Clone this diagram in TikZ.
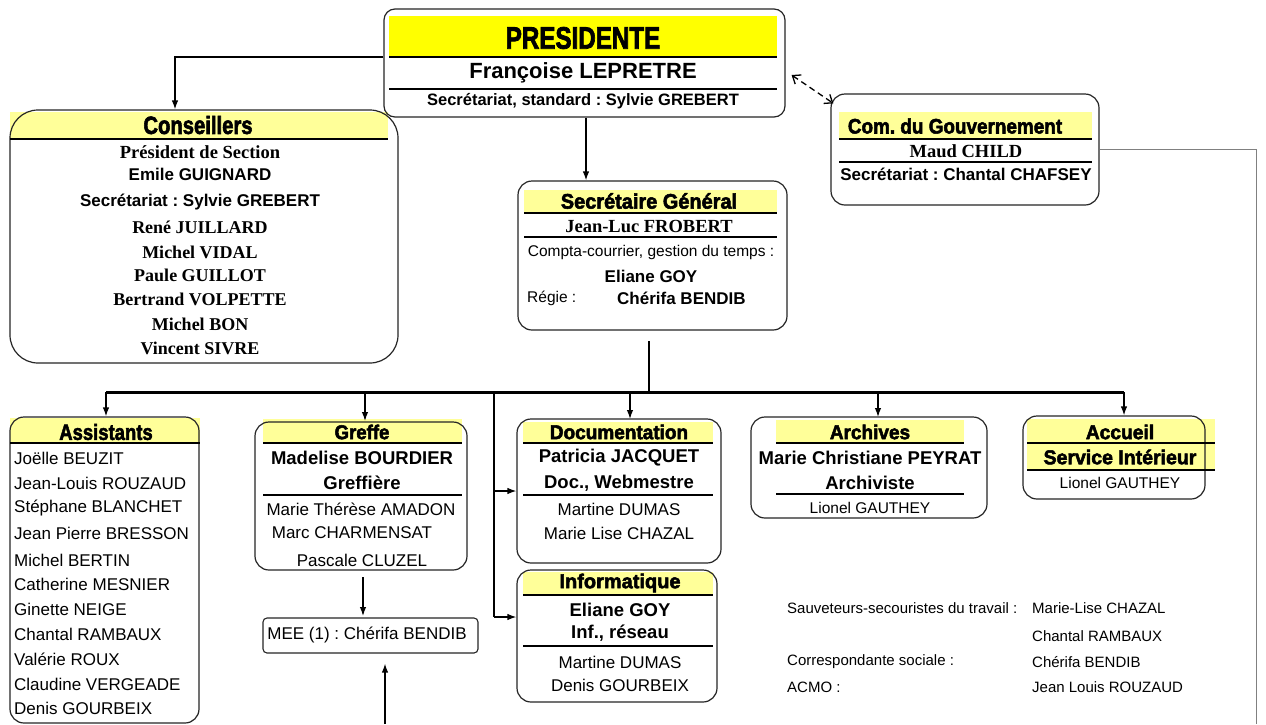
\documentclass[tikz,border=0pt]{standalone}
\usepackage{fontspec}
\setmainfont{Liberation Sans}
\newfontfamily\serifb{Liberation Serif}
\newfontfamily\hdrfont[FakeBold=2.6]{Liberation Sans Bold}
\usetikzlibrary{arrows.meta}
\definecolor{paleY}{HTML}{FFFF99}
\definecolor{brightY}{HTML}{FFFF00}
\newcommand{\hdr}[3]{\scalebox{#2}[1]{\fontsize{#1}{#1}\hdrfont #3}}
\newcommand{\fs}[1]{\fontsize{#1}{#1}\selectfont}
\frenchspacing
\tikzset{
  rbox/.style={draw=black!85, line width=1.2pt, rounded corners=14pt, inner sep=0pt},
  sbox/.style={draw=black!85, line width=1.1pt, rounded corners=4pt, inner sep=0pt},
  txt/.style={inner sep=0pt},
  reg/.style={txt, font=\fs{17}},
  regs/.style={txt, font=\fs{15.5}},
  bld/.style={txt, font=\fs{18.5}\bfseries},
  bldc/.style={txt, font=\fs{17}\bfseries},
  ser/.style={txt, font=\fs{18}\serifb\bfseries},
  rulel/.style={line width=2.4pt},
  arr/.style={-{Latex[length=9pt,width=6.5pt]}, line width=1.3pt},
  plain/.style={line width=1.3pt},
  bus/.style={line width=3pt},
  dasharr/.style={{Straight Barb[length=7pt,width=11pt]}-{Straight Barb[length=7pt,width=11pt]}, dash pattern=on 6pt off 4pt, line width=1.3pt},
}
\begin{document}
\begin{tikzpicture}[x=1pt,y=-1pt]
\useasboundingbox (0,0) rectangle (1266,724);
\fill[white] (0,0) rectangle (1266,724);

% ---------- yellow bands ----------
\fill[brightY] (389,16) rectangle (777,57);
\fill[paleY] (10,112) rectangle (388,139);
\fill[paleY] (839,112) rectangle (1092,139);
\fill[paleY] (524,190) rectangle (777,213);
\fill[paleY] (10,418) rectangle (200,443);
\fill[paleY] (263,419) rectangle (462,443);
\fill[paleY] (523,422) rectangle (713,443);
\fill[paleY] (523,572) rectangle (713,595);
\fill[paleY] (776,420) rectangle (964,443);
\fill[paleY] (1027,419) rectangle (1215,469);

% ---------- boxes ----------
\node[rbox, rounded corners=11pt, minimum width=401pt, minimum height=108pt] (pres) at (584.5,63) {};
\node[rbox, rounded corners=28pt, minimum width=388pt, minimum height=253pt] (cons) at (204,236.5) {};
\node[rbox, minimum width=268pt, minimum height=111pt] (com) at (965,149.5) {};
\node[rbox, minimum width=269pt, minimum height=149pt] (sg) at (652.5,255.5) {};
\node[rbox, minimum width=189pt, minimum height=306pt] (ass) at (104.5,570) {};
\node[rbox, minimum width=212pt, minimum height=148pt] (gre) at (361,496) {};
\node[sbox, minimum width=215pt, minimum height=35pt] (mee) at (370.5,635.5) {};
\node[rbox, minimum width=204pt, minimum height=144pt] (doc) at (619,491) {};
\node[rbox, minimum width=200pt, minimum height=132pt] (inf) at (617,636) {};
\node[rbox, minimum width=236pt, minimum height=101pt] (arc) at (869,467.5) {};
\node[rbox, minimum width=182pt, minimum height=83pt] (acc) at (1114,457.5) {};

% ---------- rules ----------
\draw[rulel] (389,57) -- (777,57);
\draw[rulel] (389,89) -- (777,89);
\draw[rulel] (10,139) -- (388,139);
\draw[rulel] (839,139) -- (1092,139);
\draw[rulel] (839,162) -- (1092,162);
\draw[rulel] (524,213) -- (777,213);
\draw[rulel] (524,237) -- (777,237);
\draw[rulel] (10,443) -- (200,443);
\draw[rulel] (263,443) -- (462,443);
\draw[rulel] (263,495) -- (462,495);
\draw[rulel] (523,443) -- (713,443);
\draw[rulel] (523,495) -- (713,495);
\draw[rulel] (523,595) -- (713,595);
\draw[rulel] (523,646) -- (713,646);
\draw[rulel] (776,443) -- (964,443);
\draw[rulel] (776,494) -- (964,494);
\draw[rulel] (1027,443) -- (1215,443);
\draw[rulel] (1027,470) -- (1215,470);

% ---------- President ----------
\node[txt] (presT) at (583,38) {\hdr{31}{0.78}{PRESIDENTE}};
\node[txt, font=\fs{22}\bfseries] (presN) at (583,73) {Françoise LEPRETRE};
\node[txt, font=\fs{16.5}\bfseries] (presS) at (583,101) {Secrétariat, standard : Sylvie GREBERT};

% ---------- Conseillers ----------
\node[txt] (consT) at (198,125) {\hdr{25}{0.81}{Conseillers}};
\node[ser, font=\fs{18.5}\serifb\bfseries] (c1) at (200,152) {Président de Section};
\node[bldc] (c2) at (200,174) {Emile GUIGNARD};
\node[bldc] (c3) at (200,202) {Secrétariat : Sylvie GREBERT};
\node[ser] (c4) at (200,227) {René JUILLARD};
\node[ser] (c5) at (200,252) {Michel VIDAL};
\node[ser] (c6) at (200,275) {Paule GUILLOT};
\node[ser] (c7) at (200,299) {Bertrand VOLPETTE};
\node[ser] (c8) at (200,324) {Michel BON};
\node[ser] (c9) at (200,348) {Vincent SIVRE};

% ---------- Com. du Gouvernement ----------
\node[txt] (comT) at (955,126) {\hdr{21}{0.9}{Com. du Gouvernement}};
\node[ser, font=\fs{18.5}\serifb\bfseries] (comN) at (966,151) {Maud CHILD};
\node[bldc] (comS) at (966,174) {Secrétariat : Chantal CHAFSEY};

% ---------- Secretaire general ----------
\node[txt] (sgT) at (649,201) {\hdr{21}{0.95}{Secrétaire Général}};
\node[ser, font=\fs{18.5}\serifb\bfseries] (sgN) at (649,226) {Jean-Luc FROBERT};
\node[regs] (sg1) at (651,252) {Compta-courrier, gestion du temps :};
\node[bldc] (sg2) at (651,276) {Eliane GOY};
\node[regs, anchor=west] (sg3) at (527,298) {Régie :};
\node[bldc, anchor=west] (sg4) at (617,298) {Chérifa BENDIB};

% ---------- Assistants ----------
\node[txt] (assT) at (106,432) {\hdr{22}{0.84}{Assistants}};
\foreach \n/\y/\t in {a1/458/Joëlle BEUZIT, a2/483/Jean-Louis ROUZAUD, a3/508/Stéphane BLANCHET,
  a4/533/Jean Pierre BRESSON, a5/560/Michel BERTIN, a6/584/Catherine MESNIER, a7/609/Ginette NEIGE,
  a8/634/Chantal RAMBAUX, a9/659/Valérie ROUX, a10/684/Claudine VERGEADE, a11/708/Denis GOURBEIX}
  \node[reg, anchor=west] (\n) at (14,\y) {\t};

% ---------- Greffe ----------
\node[txt] (greT) at (362,432) {\hdr{20}{0.93}{Greffe}};
\node[bld] (g1) at (362,458) {Madelise BOURDIER};
\node[bld] (g2) at (362,483) {Greffière};
\node[reg] (g3) at (361,509) {Marie Thérèse AMADON};
\node[reg] (g4) at (352,533) {Marc CHARMENSAT};
\node[reg] (g5) at (362,560) {Pascale CLUZEL};
\node[reg] (meeT) at (367,635) {MEE (1) : Chérifa BENDIB};

% ---------- Documentation ----------
\node[txt] (docT) at (619,432) {\hdr{20}{0.95}{Documentation}};
\node[bld] (d1) at (619,458) {Patricia JACQUET};
\node[bld] (d2) at (619,483) {Doc., Webmestre};
\node[reg] (d3) at (619,509) {Martine DUMAS};
\node[reg] (d4) at (619,533) {Marie Lise CHAZAL};

% ---------- Informatique ----------
\node[txt] (infT) at (620,583) {\hdr{20}{1.0}{Informatique}};
\node[bld] (i1) at (620,610) {Eliane GOY};
\node[bld] (i2) at (620,633) {Inf., réseau};
\node[reg] (i3) at (620,662) {Martine DUMAS};
\node[reg] (i4) at (620,685) {Denis GOURBEIX};

% ---------- Archives ----------
\node[txt] (arcT) at (870,432) {\hdr{20}{0.95}{Archives}};
\node[bld] (r1) at (870,458) {Marie Christiane PEYRAT};
\node[bld] (r2) at (870,483) {Archiviste};
\node[regs] (r3) at (870,508) {Lionel GAUTHEY};

% ---------- Accueil ----------
\node[txt] (accT) at (1120,432) {\hdr{20}{0.96}{Accueil}};
\node[txt] (accT2) at (1120,457) {\hdr{20}{0.975}{Service Intérieur}};
\node[regs] (ac1) at (1120,483) {Lionel GAUTHEY};

% ---------- bottom right notes ----------
\node[txt, font=\fs{15}, anchor=west] (n1) at (787,608) {Sauveteurs-secouristes du travail :};
\node[txt, font=\fs{15}, anchor=west] (n2) at (1032,608) {Marie-Lise CHAZAL};
\node[txt, font=\fs{15}, anchor=west] (n3) at (1032,636) {Chantal RAMBAUX};
\node[txt, font=\fs{15}, anchor=west] (n4) at (787,662) {Correspondante sociale :};
\node[txt, font=\fs{15}, anchor=west] (n5) at (1032,662) {Chérifa BENDIB};
\node[txt, font=\fs{15}, anchor=west] (n6) at (787,687) {ACMO :};
\node[txt, font=\fs{15}, anchor=west] (n7) at (1032,687) {Jean Louis ROUZAUD};

% ---------- connectors ----------
\coordinate (sgout) at (649,341);
\coordinate (busmid) at (649,392);
\coordinate (busL) at (106,392);
\coordinate (busR) at (1124,392);
\coordinate (vsplit) at (494,392);
\coordinate (vend) at (494,617);
\coordinate (rbot) at (1256,724);
\coordinate (meein) at (385,724);

\draw[arr] (pres.west |- 0,57) -| ([xshift=-29pt]cons.north);
\draw[arr] ([xshift=1.5pt]pres.south) -- ([xshift=1.5pt]pres.south |- sg.north);
\draw[dasharr] ([shift={(6,12)}]pres.east) -- ([shift={(3,10)}]com.north west);
\draw[gray, line width=0.9pt] (com.east) -| (rbot);

\draw[plain] (sgout) -- (busmid);
\draw[bus] (busL) -- (busR);
\draw[arr] (busL) -- (busL |- ass.north);
\draw[arr] (365,392) -- (365,421);
\draw[arr] (630,392) -- (630,419);
\draw[arr] (878,392) -- (878,417);
\draw[arr] (busR) -- (busR |- acc.north);
\draw[plain] (vsplit) -- (vend);
\draw[arr] (494,491) -- (doc.west |- 0,491);
\draw[arr] (vend) -- (inf.west |- vend);
\draw[arr] (363,577) -- (363,616);
\draw[arr] (meein) -- ([yshift=-10pt]mee.south -| meein);
\end{tikzpicture}
\end{document}
